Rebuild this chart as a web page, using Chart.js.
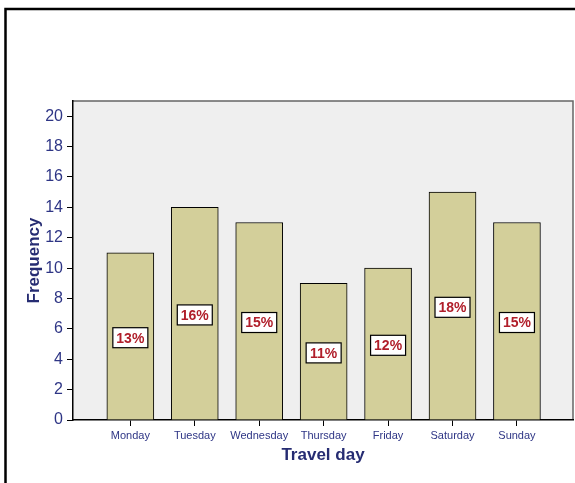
<!DOCTYPE html>
<html>
<head>
<meta charset="utf-8">
<script src="https://cdn.jsdelivr.net/npm/chart.js@4.4.1/dist/chart.umd.min.js"></script>
<style>
  body { margin: 0; background: #fff; }
  #wrap { width: 575px; height: 483px; }
</style>
</head>
<body>
<div id="wrap"><canvas id="daychart" width="575" height="483"></canvas></div>
<script>
// travel day frequencies
const days = ['Monday', 'Tuesday', 'Wednesday', 'Thursday', 'Friday', 'Saturday', 'Sunday'];
const frequency = [11, 14, 13, 9, 10, 15, 13];
const yticks = [0, 2, 4, 6, 8, 10, 12, 14, 16, 18, 20];

const total = frequency.reduce((a, b) => a + b, 0);
const percents = frequency.map(v => Math.round(v / total * 100) + '%');

const navy = '#2e3585';
const titlenavy = '#262c72';

// grey plot area + outer frame
const backdrop = {
    id: 'backdrop',
    beforeDraw(chart) {
        const ctx = chart.ctx;
        const a = chart.chartArea;
        ctx.save();
        ctx.fillStyle = '#ffffff';
        ctx.fillRect(0, 0, chart.width, chart.height);
        ctx.fillStyle = '#efefef';
        ctx.fillRect(a.left, a.top, a.right - a.left, a.bottom - a.top);
        ctx.strokeStyle = '#666666';
        ctx.lineWidth = 1.5;
        ctx.beginPath();
        ctx.moveTo(a.left, a.top);
        ctx.lineTo(a.right, a.top);
        ctx.lineTo(a.right, a.bottom);
        ctx.stroke();
        // outer frame
        ctx.strokeStyle = '#000';
        ctx.lineWidth = 2.5;
        ctx.beginPath();
        ctx.moveTo(5.5, chart.height + 2);
        ctx.lineTo(5.5, 9);
        ctx.lineTo(chart.width + 2, 9);
        ctx.stroke();
        ctx.restore();
    }
};

// percentage boxes in the middle of each bar
const pctlabels = {
    id: 'pctlabels',
    afterDatasetsDraw(chart) {
        const ctx = chart.ctx;
        const meta = chart.getDatasetMeta(0);
        ctx.save();
        ctx.font = 'bold 14px "Liberation Sans", Arial, sans-serif';
        ctx.textAlign = 'center';
        ctx.textBaseline = 'middle';
        meta.data.forEach((bar, i) => {
            const cy = (bar.y + bar.base) / 2 + 1.5;
            const w = 35, h = 20;
            ctx.fillStyle = '#ffffff';
            ctx.fillRect(bar.x - w / 2, cy - h / 2, w, h);
            ctx.strokeStyle = '#000';
            ctx.lineWidth = 1.2;
            ctx.strokeRect(bar.x - w / 2, cy - h / 2, w, h);
            ctx.fillStyle = '#b01e2a';
            ctx.fillText(percents[i], bar.x, cy + 1);
        });
        ctx.restore();
    }
};

const config = {
    type: 'bar',
    data: {
        datasets: [
            {
                label: 'Frequency',
                data: frequency.map((v, i) => ({ x: i, y: v })),
                backgroundColor: '#d3cf9a',
                borderColor: '#000000',
                borderWidth: 1,
                borderSkipped: 'bottom',
                barThickness: 47
            }
        ]
    },
    options: {
        responsive: false,
        animation: false,
        layout: {
            padding: { top: 101, right: 2, left: 0, bottom: 0 }
        },
        plugins: {
            legend: { display: false },
            tooltip: { enabled: false }
        },
        scales: {
            x: {
                type: 'linear',
                offset: false,
                min: -0.89,
                max: 6.87,
                afterFit: s => { s.height = 63; },
                afterBuildTicks: s => { s.ticks = days.map((d, i) => ({ value: i })); },
                grid: { offset: false, drawOnChartArea: false, tickLength: 6, color: '#000', lineWidth: 1 },
                border: { display: true, color: '#000', width: 1.5 },
                ticks: {
                    autoSkip: false,
                    maxRotation: 0,
                    padding: 3,
                    color: navy,
                    font: { family: '"Liberation Sans", Arial, sans-serif', size: 11 },
                    callback: v => days[v]
                },
                title: {
                    display: true,
                    text: 'Travel day',
                    color: titlenavy,
                    font: { family: '"Liberation Sans", Arial, sans-serif', size: 17, weight: 'bold' },
                    padding: { top: 0, bottom: 17 }
                }
            },
            y: {
                min: 0,
                max: 21,
                afterFit: s => { s.width = 73; },
                afterBuildTicks: s => { s.ticks = yticks.map(v => ({ value: v })); },
                grid: { drawOnChartArea: false, tickLength: 6, color: '#000', lineWidth: 1 },
                border: { display: true, color: '#000', width: 1.5 },
                ticks: {
                    padding: 4,
                    color: navy,
                    font: { family: '"Liberation Sans", Arial, sans-serif', size: 16 }
                },
                title: {
                    display: true,
                    text: 'Frequency',
                    color: titlenavy,
                    font: { family: '"Liberation Sans", Arial, sans-serif', size: 17, weight: 'bold' },
                    padding: { top: 24, bottom: 0 }
                }
            }
        }
    },
    plugins: [backdrop, pctlabels]
};

new Chart(document.getElementById('daychart'), config);
</script>
</body>
</html>
